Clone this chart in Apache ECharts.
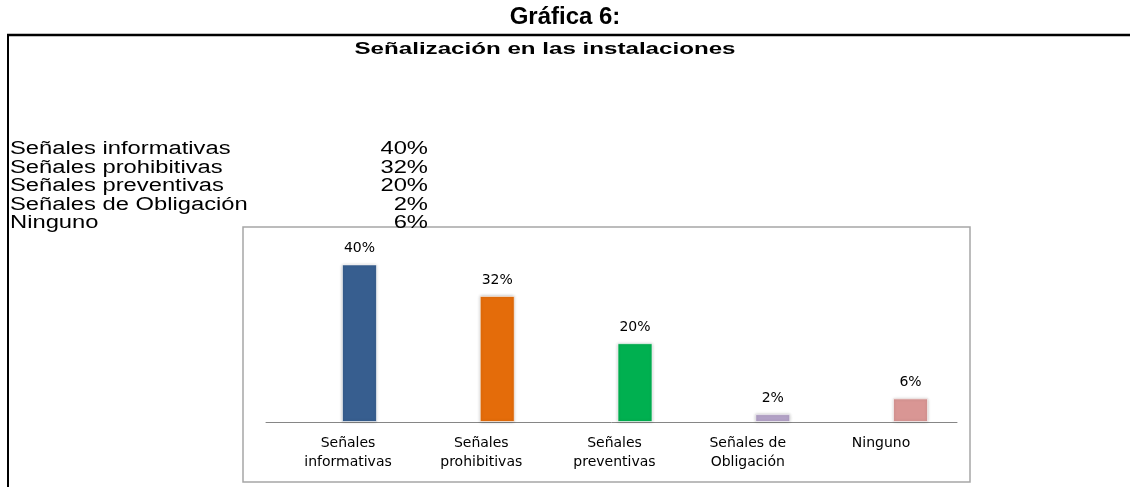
<!DOCTYPE html>
<html>
<head>
<meta charset="utf-8">
<script src="https://cdn.jsdelivr.net/npm/echarts@6/dist/echarts.min.js"></script>
<style>
  html, body { margin: 0; padding: 0; background: #fff; }
  #main { width: 1130px; height: 487px; }
</style>
</head>
<body>
<div id="main"></div>
<script>
// datos de la gráfica
const categorias = ['Señales informativas', 'Señales prohibitivas', 'Señales preventivas', 'Señales de Obligación', 'Ninguno'];
const etiquetasEje = ['Señales\ninformativas', 'Señales\nprohibitivas', 'Señales\npreventivas', 'Señales de\nObligación', 'Ninguno'];
const valores = [40, 32, 20, 2, 6];
const colores = ['#375e8f', '#e46c0a', '#00b050', '#b3a2c7', '#d99694'];

const myChart = echarts.init(document.getElementById('main'));

// tabla de texto arriba a la izquierda (estirada en horizontal como el original)
const tabla = [];
categorias.forEach((c, i) => {
    const y = 149 + i * 18.6;
    tabla.push({
        type: 'text', x: 10, y: y, scaleX: 1.32,
        style: { text: c, font: '18px "Liberation Sans", Arial', fill: '#000', textVerticalAlign: 'middle' }
    });
    tabla.push({
        type: 'text', x: 428, y: y, scaleX: 1.32,
        style: { text: valores[i] + '%', font: '18px "Liberation Sans", Arial', fill: '#000', textAlign: 'right', textVerticalAlign: 'middle' }
    });
});

const option = {
    backgroundColor: '#fff',
    animation: false,
    grid: [
        { left: 290.6, right: 150.6, top: 225, bottom: 65 },   // barras
        { left: 266, right: 173, top: 225, bottom: 65 },       // línea del eje
        { left: 281.4, right: 182.4, top: 225, bottom: 65 }    // etiquetas del eje
    ],
    xAxis: [{
        type: 'category',
        gridIndex: 0,
        data: etiquetasEje,
        axisLine: { show: false },
        axisTick: { show: false },
        axisLabel: { show: false }
    }, {
        type: 'category',
        gridIndex: 1,
        data: etiquetasEje,
        axisLine: { show: true, lineStyle: { color: '#868686', width: 1 } },
        axisTick: { show: false },
        axisLabel: { show: false }
    }, {
        type: 'category',
        gridIndex: 2,
        data: etiquetasEje,
        axisLine: { show: false },
        axisTick: { show: false },
        axisLabel: {
            margin: 12,
            color: '#000',
            fontFamily: '"DejaVu Sans"',
            fontSize: 14,
            lineHeight: 19
        }
    }],
    yAxis: [0, 1, 2].map(g => ({ type: 'value', gridIndex: g, min: 0, max: 50, show: false })),
    series: [{
        type: 'bar',
        xAxisIndex: 0,
        yAxisIndex: 0,
        barWidth: 35,
        data: valores.map((v, i) => ({
            value: v,
            itemStyle: { color: colores[i] }
        })),
        itemStyle: {
            borderColor: 'rgba(255,255,255,0.6)',
            borderWidth: 1,
            shadowBlur: 3,
            shadowColor: 'rgba(0,0,0,0.25)'
        },
        label: {
            show: true,
            position: 'top',
            distance: 9,
            formatter: '{c}%',
            color: '#000',
            fontFamily: '"DejaVu Sans"',
            fontSize: 14
        }
    }],
    graphic: [
        {
            type: 'text', x: 565, y: 17,
            style: { text: 'Gráfica 6:', font: 'bold 24px "Liberation Sans", Arial', fill: '#000', textAlign: 'center', textVerticalAlign: 'middle' }
        },
        {
            type: 'line',
            shape: { x1: 7, y1: 35, x2: 1130, y2: 35 },
            style: { stroke: '#000', lineWidth: 2.5 }
        },
        {
            type: 'line',
            shape: { x1: 8, y1: 34, x2: 8, y2: 487 },
            style: { stroke: '#000', lineWidth: 2 }
        },
        {
            type: 'text', x: 545, y: 49, scaleX: 1.42,
            style: { text: 'Señalización en las instalaciones', font: 'bold 17px "Liberation Sans", Arial', fill: '#000', textAlign: 'center', textVerticalAlign: 'middle' }
        },
        {
            type: 'rect',
            shape: { x: 243, y: 227, width: 727, height: 255 },
            style: { fill: 'none', stroke: '#a6a6a6', lineWidth: 1.5 },
            z: -1
        }
    ].concat(tabla)
};

myChart.setOption(option);
window.addEventListener('resize', () => myChart.resize());
</script>
</body>
</html>
